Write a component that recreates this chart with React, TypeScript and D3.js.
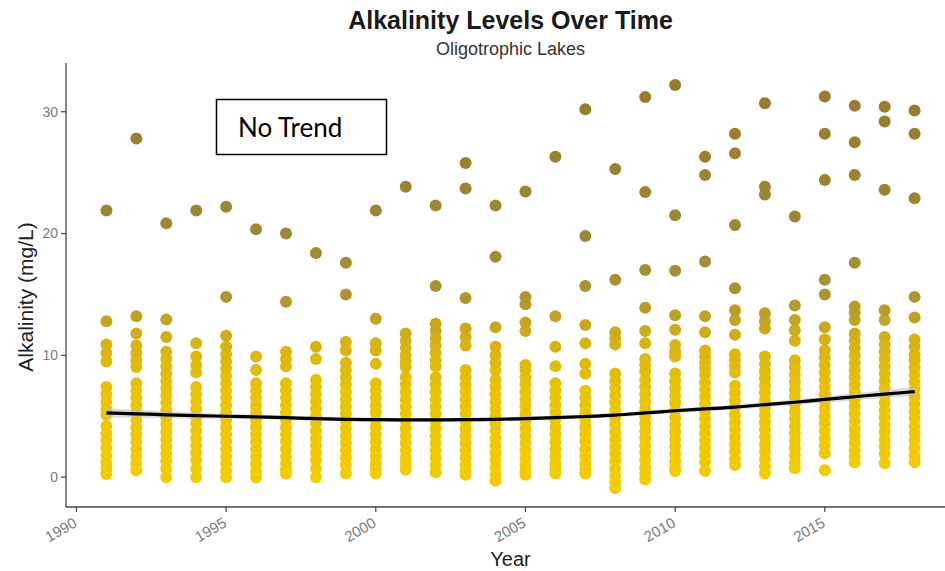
import React from "react";
import * as d3 from "d3";

const years = [1991, 1992, 1993, 1994, 1995, 1996, 1997, 1998, 1999, 2000, 2001, 2002, 2003, 2004, 2005, 2006, 2007, 2008, 2009, 2010, 2011, 2012, 2013, 2014, 2015, 2016, 2017, 2018];

const alk1991 = [21.9, 12.8, 10.9, 10.2, 9.5, 7.4, 6.8, 6.2, 5.6, 5.1, 4.2, 3.6, 3.0, 2.4, 1.8, 1.2, 0.7, 0.25];
const alk1992 = [27.8, 13.2, 11.8, 10.8, 10.2, 9.6, 9.05, 7.7, 7.1, 6.5, 5.9, 5.3, 4.7, 4.1, 3.5, 2.9, 2.3, 1.7, 1.1, 0.57];
const alk1993 = [20.85, 12.95, 11.5, 10.3, 9.7, 9.1, 8.5, 7.9, 7.3, 6.7, 6.1, 5.5, 4.9, 4.3, 3.7, 3.1, 2.5, 1.9, 1.3, 0.7, 0.0];
const alk1994 = [21.9, 11.0, 9.9, 9.2, 8.6, 7.4, 6.8, 6.2, 5.6, 5.0, 4.4, 3.8, 3.2, 2.6, 2.0, 1.4, 0.7, 0.0];
const alk1995 = [22.2, 14.8, 11.6, 10.7, 10.1, 9.5, 8.9, 8.3, 7.7, 7.1, 6.5, 5.9, 5.3, 4.7, 4.1, 3.5, 2.9, 2.3, 1.7, 1.1, 0.5, 0.0];
const alk1996 = [20.35, 9.9, 8.8, 7.7, 7.1, 6.5, 5.9, 5.3, 4.7, 4.1, 3.5, 2.9, 2.3, 1.7, 1.1, 0.5, 0.0];
const alk1997 = [20.0, 14.4, 10.3, 9.7, 9.1, 7.7, 7.1, 6.5, 5.9, 5.3, 4.7, 4.1, 3.5, 2.9, 2.3, 1.7, 1.1, 0.6, 0.3];
const alk1998 = [18.4, 10.7, 9.7, 8.0, 7.4, 6.8, 6.2, 5.6, 5.0, 4.4, 3.8, 3.2, 2.6, 2.0, 1.4, 0.7, 0.0];
const alk1999 = [17.6, 15.0, 11.1, 10.4, 9.4, 8.8, 8.2, 7.6, 7.0, 6.4, 5.8, 5.2, 4.6, 4.0, 3.4, 2.8, 2.2, 1.6, 1.0, 0.3];
const alk2000 = [21.9, 13.0, 11.0, 10.4, 9.3, 7.7, 7.1, 6.5, 5.9, 5.3, 4.7, 4.1, 3.5, 2.9, 2.3, 1.7, 1.1, 0.6, 0.3];
const alk2001 = [23.85, 11.8, 11.2, 10.6, 10.0, 9.5, 9.05, 8.2, 7.6, 7.0, 6.4, 5.8, 5.2, 4.6, 4.0, 3.4, 2.8, 2.2, 1.6, 1.1, 0.6];
const alk2002 = [22.3, 15.7, 12.6, 12.0, 11.4, 10.8, 10.2, 9.6, 9.1, 8.2, 7.6, 7.0, 6.4, 5.8, 5.2, 4.6, 4.0, 3.4, 2.8, 2.2, 1.6, 1.0, 0.4];
const alk2003 = [25.8, 23.7, 14.7, 12.2, 11.5, 10.8, 8.8, 8.2, 7.6, 7.0, 6.4, 5.8, 5.2, 4.6, 4.0, 3.4, 2.8, 2.2, 1.6, 1.0, 0.5, 0.2];
const alk2004 = [22.3, 18.1, 12.3, 10.7, 10.0, 9.4, 8.8, 8.0, 7.4, 6.8, 6.2, 5.6, 5.0, 4.4, 3.8, 3.2, 2.6, 2.0, 1.4, 0.8, 0.2, -0.3];
const alk2005 = [23.45, 14.8, 14.2, 12.7, 12.0, 9.2, 8.8, 8.2, 7.6, 7.0, 6.4, 5.8, 5.2, 4.6, 4.0, 3.4, 2.8, 2.2, 1.6, 1.0, 0.5, 0.2];
const alk2006 = [26.3, 13.2, 10.7, 9.1, 7.7, 7.1, 6.5, 5.9, 5.3, 4.7, 4.1, 3.5, 2.9, 2.3, 1.7, 1.1, 0.6, 0.3];
const alk2007 = [30.2, 19.8, 15.7, 12.5, 11.0, 9.3, 8.5, 7.1, 6.5, 5.9, 5.3, 4.7, 4.1, 3.5, 2.9, 2.3, 1.7, 1.1, 0.6, 0.3];
const alk2008 = [25.3, 16.2, 11.9, 11.4, 10.9, 8.5, 7.9, 7.3, 6.7, 6.1, 5.5, 4.9, 4.3, 3.7, 3.1, 2.5, 1.9, 1.3, 0.7, 0.1, -0.4, -0.9];
const alk2009 = [31.2, 23.4, 17.0, 13.9, 12.0, 11.0, 9.7, 9.2, 8.7, 8.0, 7.4, 6.8, 6.2, 5.6, 5.0, 4.4, 3.8, 3.2, 2.6, 2.0, 1.4, 0.8, 0.3, -0.2];
const alk2010 = [32.2, 21.5, 16.95, 13.3, 12.1, 10.85, 10.3, 9.9, 8.5, 7.9, 7.3, 6.7, 6.1, 5.5, 4.9, 4.3, 3.7, 3.1, 2.5, 1.9, 1.3, 0.8, 0.5];
const alk2011 = [26.3, 24.8, 17.7, 13.2, 11.9, 10.4, 9.9, 9.4, 8.9, 8.4, 7.8, 7.2, 6.6, 6.0, 5.4, 4.8, 4.2, 3.6, 3.0, 2.4, 1.8, 1.2, 0.5];
const alk2012 = [28.2, 26.6, 20.7, 15.5, 13.7, 12.9, 11.7, 10.1, 9.6, 9.1, 8.6, 7.5, 6.9, 6.3, 5.7, 5.1, 4.5, 3.9, 3.3, 2.7, 2.1, 1.5, 1.0];
const alk2013 = [30.7, 23.85, 23.2, 13.45, 12.8, 12.2, 9.9, 9.3, 8.7, 8.1, 7.5, 6.9, 6.3, 5.7, 5.1, 4.5, 3.9, 3.3, 2.7, 2.1, 1.5, 0.9, 0.33];
const alk2014 = [21.4, 14.1, 12.9, 12.06, 11.2, 9.6, 9.0, 8.4, 7.8, 7.2, 6.6, 6.0, 5.4, 4.8, 4.2, 3.6, 3.0, 2.4, 1.8, 1.2, 0.74];
const alk2015 = [31.25, 28.2, 24.4, 16.2, 15.0, 12.3, 11.3, 10.4, 9.8, 9.2, 8.6, 8.0, 7.4, 6.8, 6.2, 5.6, 5.0, 4.4, 3.8, 3.2, 2.6, 1.97, 0.57];
const alk2016 = [30.5, 27.5, 24.8, 17.6, 14.0, 13.5, 12.9, 11.8, 11.2, 10.6, 10.0, 9.4, 8.8, 8.2, 7.6, 7.0, 6.4, 5.8, 5.2, 4.6, 4.0, 3.4, 2.8, 2.2, 1.7, 1.23];
const alk2017 = [30.4, 29.2, 23.6, 13.7, 12.9, 11.5, 10.9, 10.3, 9.7, 9.1, 8.5, 7.9, 7.3, 6.7, 6.1, 5.5, 4.9, 4.3, 3.7, 3.1, 2.5, 1.9, 1.15];
const alk2018 = [30.1, 28.2, 22.9, 14.8, 13.1, 11.3, 10.7, 10.1, 9.6, 9.0, 8.4, 7.8, 7.2, 6.6, 6.0, 5.4, 4.8, 4.2, 3.6, 3.0, 2.4, 1.8, 1.23];

const alkalinityByYear = [alk1991, alk1992, alk1993, alk1994, alk1995, alk1996, alk1997, alk1998, alk1999, alk2000, alk2001, alk2002, alk2003, alk2004, alk2005, alk2006, alk2007, alk2008, alk2009, alk2010, alk2011, alk2012, alk2013, alk2014, alk2015, alk2016, alk2017, alk2018];

// loess smooth
const smoothFit = [5.28, 5.2, 5.12, 5.05, 5.0, 4.95, 4.88, 4.8, 4.75, 4.72, 4.7, 4.7, 4.72, 4.75, 4.8, 4.88, 4.98, 5.1, 5.27, 5.45, 5.6, 5.75, 5.95, 6.15, 6.38, 6.6, 6.82, 7.02];
const smoothSE = [0.4, 0.33, 0.28, 0.24, 0.21, 0.19, 0.18, 0.17, 0.17, 0.17, 0.17, 0.17, 0.17, 0.17, 0.17, 0.17, 0.17, 0.17, 0.18, 0.18, 0.19, 0.2, 0.21, 0.23, 0.25, 0.28, 0.32, 0.38];

const xTicks = [1990, 1995, 2000, 2005, 2010, 2015];
const yTicks = [0, 10, 20, 30];

const titleText = "Alkalinity Levels Over Time";
const subtitleText = "Oligotrophic Lakes";
const xLabel = "Year";
const yLabel = "Alkalinity (mg/L)";
const noteText = "No Trend";

export default function App() {
  const W = 945;
  const H = 571;
  const left = 66;
  const bottom = 507;
  const top = 63;

  const x = d3.scaleLinear().domain([1989.65, 2019.35]).range([left, 955]);
  const y = d3.scaleLinear().domain([-2.45, 34.0]).range([bottom, top]);
  const color = d3
    .scaleLinear<string>()
    .domain([0, 7, 11, 15, 20, 32])
    .range(["#f3cc00", "#eac402", "#d8b312", "#ad9330", "#9c8835", "#967b2b"])
    .clamp(true);

  const points: { yr: number; v: number }[] = [];
  years.forEach((yr, i) => {
    alkalinityByYear[i].forEach((v) => points.push({ yr, v }));
  });
  const sorted = points.slice().sort((a, b) => a.v - b.v);

  const line = d3
    .line<number>()
    .x((_, i) => x(years[i]))
    .y((d) => y(d))
    .curve(d3.curveMonotoneX);
  const band = d3
    .area<number>()
    .x((_, i) => x(years[i]))
    .y0((d, i) => y(d - smoothSE[i]))
    .y1((d, i) => y(d + smoothSE[i]))
    .curve(d3.curveMonotoneX);

  const sans = "'Liberation Sans', Arial, Helvetica, sans-serif";
  const midX = (left + 955) / 2;

  return (
    <div style={{ position: "absolute", left: 0, top: 0, width: W, height: H, background: "#fff" }}>
      <svg width={W} height={H} style={{ display: "block" }}>
        <rect x={0} y={0} width={W} height={H} fill="#fff" />
        <text x={midX} y={29} textAnchor="middle" fontFamily={sans} fontWeight="bold" fontSize={25} fill="#1a1a1a">
          {titleText}
        </text>
        <text x={midX} y={55} textAnchor="middle" fontFamily={sans} fontSize={18} fill="#333">
          {subtitleText}
        </text>

        <g>
          {sorted.map((p, i) => (
            <circle key={i} cx={x(p.yr)} cy={y(p.v)} r={6} fill={color(p.v)} />
          ))}
        </g>

        <path d={band(smoothFit) || ""} fill="#bdbdbd" fillOpacity={0.55} />
        <path d={line(smoothFit) || ""} fill="none" stroke="#000" strokeWidth={3.2} />

        <line x1={left} x2={left} y1={top} y2={bottom} stroke="#444" strokeWidth={1.3} />
        <line x1={left} x2={W} y1={bottom} y2={bottom} stroke="#444" strokeWidth={1.3} />
        {yTicks.map((t) => (
          <g key={t}>
            <line x1={left - 5} x2={left} y1={y(t)} y2={y(t)} stroke="#444" strokeWidth={1.2} />
            <text x={left - 8} y={y(t)} dy="0.35em" textAnchor="end" fontFamily={sans} fontSize={14} fill="#7a7a7a">
              {t}
            </text>
          </g>
        ))}
        {xTicks.map((t) => (
          <g key={t}>
            <line x1={x(t)} x2={x(t)} y1={bottom} y2={bottom + 5} stroke="#444" strokeWidth={1.2} />
            <text
              transform={`translate(${x(t) - 3},${bottom + 11}) rotate(-30)`}
              textAnchor="end"
              dy="0.6em"
              fontFamily={sans}
              fontSize={15}
              fill="#7a7a7a"
            >
              {t}
            </text>
          </g>
        ))}
        <text x={midX} y={566} textAnchor="middle" fontFamily={sans} fontSize={20} fill="#222">
          {xLabel}
        </text>
        <text
          transform={`translate(33,${(top + bottom) / 2 + 12}) rotate(-90)`}
          textAnchor="middle"
          fontFamily={sans}
          fontSize={21}
          fill="#222"
        >
          {yLabel}
        </text>

        <rect x={216.5} y={99.5} width={170} height={55} fill="#fff" stroke="#000" strokeWidth={1.5} />
        <text x={238} y={137} fontFamily="Lato, 'Open Sans', sans-serif" fontSize={26} fill="#000">
          {noteText}
        </text>
      </svg>
    </div>
  );
}
